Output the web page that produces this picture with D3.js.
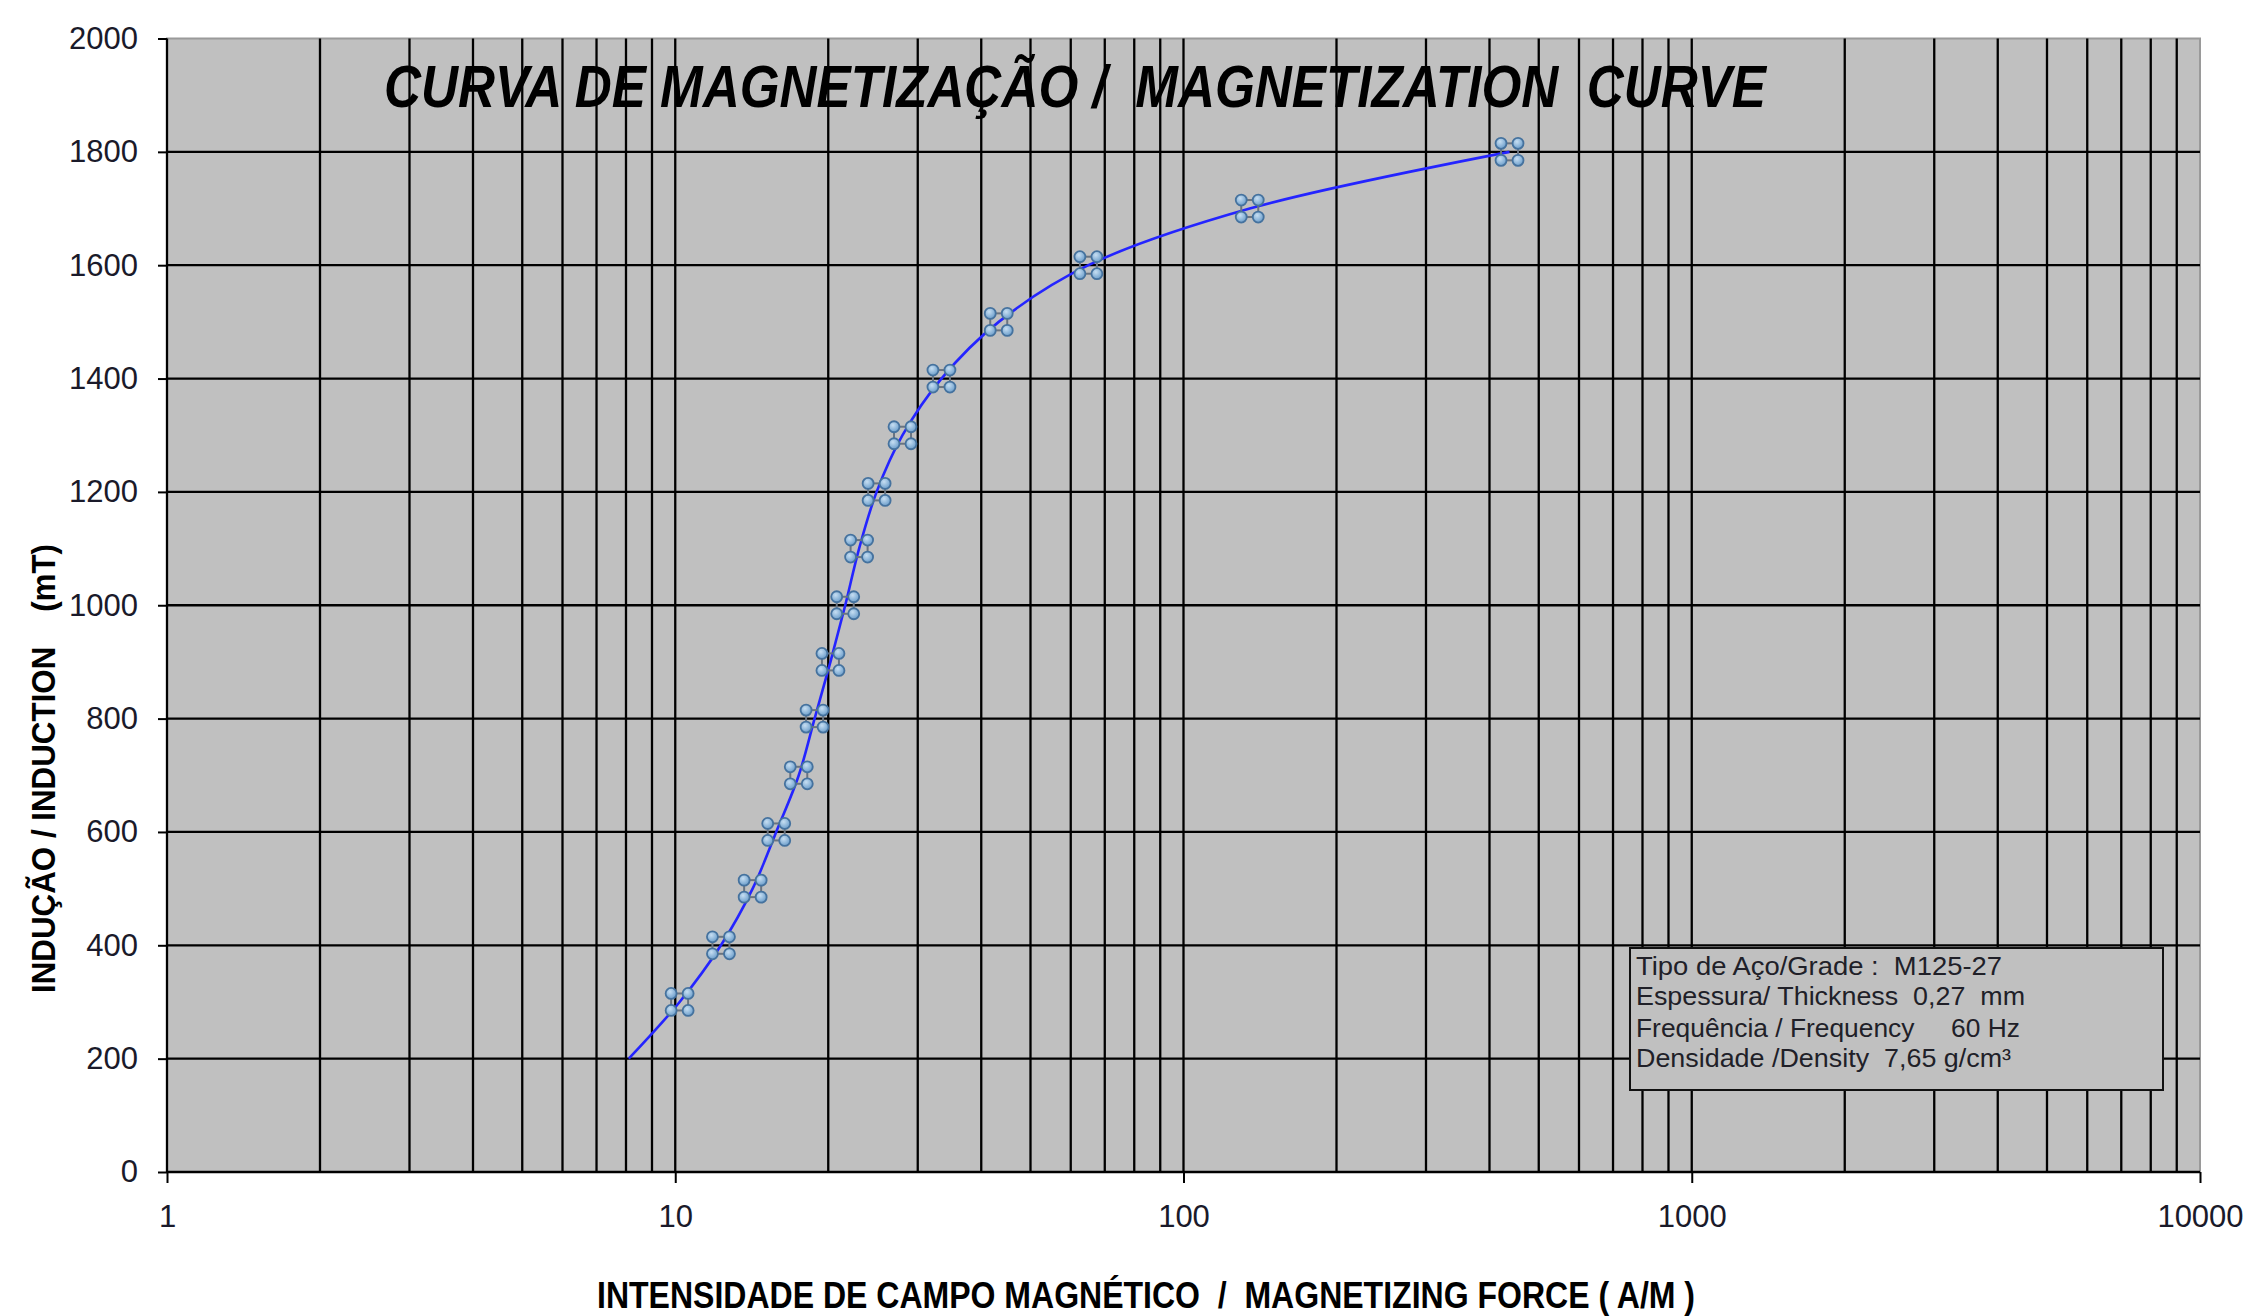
<!DOCTYPE html>
<html>
<head>
<meta charset="utf-8">
<script src="https://cdn.jsdelivr.net/npm/d3@7/dist/d3.min.js"></script>
<style>
  html, body { margin: 0; padding: 0; background: #ffffff; }
  svg { display: block; }
  text { white-space: pre; }
</style>
</head>
<body>
<script>
// ---- DATA ----
const markerH = [10.2, 12.3, 14.2, 15.8, 17.5, 18.8, 20.2, 21.6, 23.0, 24.9, 28.0, 33.4, 43.3, 65, 135, 438];
const markerB = [300, 400, 500, 600, 700, 800, 900, 1000, 1100, 1200, 1300, 1400, 1500, 1600, 1700, 1800];
const curveStartH = [8.1];
const curveStartB = [200];
const xTickValues = [1, 10, 100, 1000, 10000];
const yTickValues = [0, 200, 400, 600, 800, 1000, 1200, 1400, 1600, 1800, 2000];
const xMinorMultipliers = [2, 3, 4, 5, 6, 7, 8, 9];
const titleText = "CURVA DE MAGNETIZAÇÃO /  MAGNETIZATION  CURVE";
const xTitleText = "INTENSIDADE DE CAMPO MAGNÉTICO  /  MAGNETIZING FORCE ( A/M )";
const yTitleText = "INDUÇÃO / INDUCTION    (mT)";
const infoLines = [
  "Tipo de Aço/Grade :  M125-27",
  "Espessura/ Thickness  0,27  mm",
  "Frequência / Frequency     60 Hz",
  "Densidade /Density  7,65 g/cm³"
];

// ---- LAYOUT ----
const W = 2246, H = 1316;
const plot = { left: 167, right: 2200, top: 38.5, bottom: 1172 };
const FONT = "'Liberation Sans', Arial, Helvetica, sans-serif";

const svg = d3.select("body").append("svg").attr("width", W).attr("height", H);
svg.append("rect").attr("width", W).attr("height", H).attr("fill", "#ffffff");

const x = d3.scaleLog().domain([1, 10000]).range([plot.left, plot.right]);
const y = d3.scaleLinear().domain([0, 2000]).range([plot.bottom, plot.top]);

// gradient for markers
const defs = svg.append("defs");
const grad = defs.append("radialGradient").attr("id", "mk").attr("cx", "40%").attr("cy", "35%").attr("r", "65%");
grad.append("stop").attr("offset", "0%").attr("stop-color", "#c6def2");
grad.append("stop").attr("offset", "100%").attr("stop-color", "#6c9ecb");

// plot background
svg.append("rect")
  .attr("x", plot.left).attr("y", plot.top)
  .attr("width", plot.right - plot.left).attr("height", plot.bottom - plot.top)
  .attr("fill", "#c0c0c0").attr("stroke", "#9a9a9a").attr("stroke-width", 2);

// vertical grid lines
const vGrid = [];
xTickValues.slice(0, -1).forEach((d, i) => {
  if (i > 0) vGrid.push(d);
  xMinorMultipliers.forEach(m => vGrid.push(d * m));
});
svg.append("g").selectAll("line").data(vGrid).join("line")
  .attr("x1", d => x(d)).attr("x2", d => x(d))
  .attr("y1", plot.top).attr("y2", plot.bottom)
  .attr("stroke", "#000").attr("stroke-width", 2.3);

// horizontal grid lines
svg.append("g").selectAll("line").data(yTickValues.slice(1, -1)).join("line")
  .attr("x1", plot.left).attr("x2", plot.right)
  .attr("y1", d => y(d)).attr("y2", d => y(d))
  .attr("stroke", "#000").attr("stroke-width", 2.3);

// axes
const yAxis = d3.axisLeft(y).tickValues(yTickValues).tickSize(9).tickPadding(20).tickFormat(d3.format("d"));
const gy = svg.append("g").attr("transform", `translate(${plot.left},0)`).call(yAxis);
gy.select(".domain").attr("stroke", "#000").attr("stroke-width", 2.3).attr("d", `M0,${plot.top}V${plot.bottom}`);
gy.selectAll(".tick line").attr("stroke", "#000").attr("stroke-width", 2);
gy.selectAll(".tick text").attr("font-family", FONT).attr("font-size", 31).attr("fill", "#1a1a2a");

const xAxis = d3.axisBottom(x).tickValues(xTickValues).tickSize(11).tickPadding(22).tickFormat(d3.format("d"));
const gx = svg.append("g").attr("transform", `translate(0,${plot.bottom})`).call(xAxis);
gx.select(".domain").attr("stroke", "#000").attr("stroke-width", 2.3).attr("d", `M${plot.left},0H${plot.right}`);
gx.selectAll(".tick line").attr("stroke", "#000").attr("stroke-width", 2);
gx.selectAll(".tick text").attr("font-family", FONT).attr("font-size", 31).attr("fill", "#1a1a2a");

// curve
const curvePts = curveStartH.map((h, i) => [h, curveStartB[i]])
  .concat(markerH.map((h, i) => [h, markerB[i]]));
const line = d3.line().x(d => x(d[0])).y(d => y(d[1])).curve(d3.curveCatmullRom.alpha(0.5));
svg.append("path").datum(curvePts)
  .attr("d", line).attr("fill", "none").attr("stroke", "#2424ff").attr("stroke-width", 2.6);

// markers
const off = 8.5, r = 5.5;
const mk = svg.append("g").selectAll("g").data(markerH.map((h, i) => [h, markerB[i]])).join("g")
  .attr("transform", d => `translate(${x(d[0])},${y(d[1])})`);
mk.append("rect").attr("x", -off).attr("y", -off).attr("width", 2 * off).attr("height", 2 * off)
  .attr("fill", "none").attr("stroke", "#6a7480").attr("stroke-width", 2);
[[-1, -1], [1, -1], [-1, 1], [1, 1]].forEach(([sx, sy]) => {
  mk.append("circle").attr("cx", sx * off).attr("cy", sy * off).attr("r", r)
    .attr("fill", "url(#mk)").attr("stroke", "#45729e").attr("stroke-width", 1.8);
});

// info box
const box = { x: 1630, y: 948, w: 533, h: 142 };
svg.append("rect").attr("x", box.x).attr("y", box.y).attr("width", box.w).attr("height", box.h)
  .attr("fill", "#c0c0c0").attr("stroke", "#111").attr("stroke-width", 2);
const infoBaselines = [975, 1005, 1037, 1067];
const infoWidths = [366, 389, 384, 375];
svg.append("g").selectAll("text").data(infoLines).join("text")
  .attr("x", 1636).attr("y", (d, i) => infoBaselines[i])
  .attr("textLength", (d, i) => infoWidths[i]).attr("lengthAdjust", "spacingAndGlyphs")
  .attr("font-family", FONT).attr("font-size", 25).attr("fill", "#202028")
  .text(d => d);

// title
svg.append("text").attr("x", 384).attr("y", 107)
  .attr("textLength", 1382).attr("lengthAdjust", "spacingAndGlyphs")
  .attr("font-family", FONT).attr("font-size", 60).attr("font-weight", "bold").attr("font-style", "italic")
  .attr("fill", "#000").text(titleText);

// x title
svg.append("text").attr("x", 597).attr("y", 1308)
  .attr("textLength", 1098).attr("lengthAdjust", "spacingAndGlyphs")
  .attr("font-family", FONT).attr("font-size", 36).attr("font-weight", "bold")
  .attr("fill", "#000").text(xTitleText);

// y title
svg.append("text").attr("transform", "translate(55,993) rotate(-90)")
  .attr("x", 0).attr("y", 0)
  .attr("textLength", 449).attr("lengthAdjust", "spacingAndGlyphs")
  .attr("font-family", FONT).attr("font-size", 34).attr("font-weight", "bold")
  .attr("fill", "#000").text(yTitleText);
</script>
</body>
</html>
